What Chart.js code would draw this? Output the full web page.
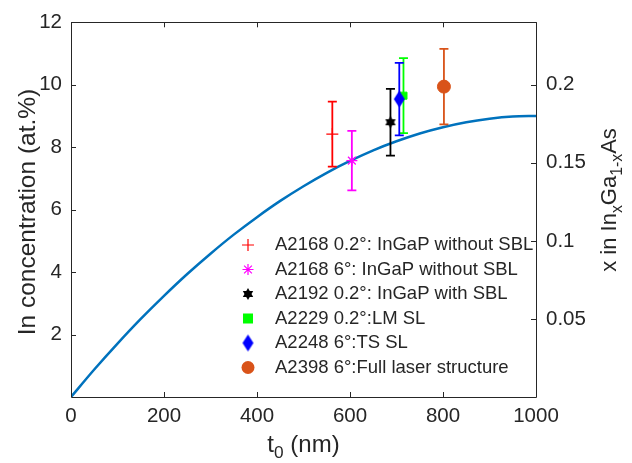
<!DOCTYPE html>
<html>
<head>
<meta charset="utf-8">
<script src="https://cdn.jsdelivr.net/npm/chart.js@4"></script>
<style>
  body { margin: 0; background: #fff; }
  canvas { display: block; }
</style>
</head>
<body>
<canvas id="chart" width="632" height="463"></canvas>
<script>
(function() {
  'use strict';

  // model curve
  var curveT = [0, 50, 100, 150, 200, 250, 300, 350, 400, 450, 500, 550, 600, 650, 700, 750, 800, 850, 900, 950, 1000];
  var curveIn = [0, 0.88, 1.71, 2.50, 3.24, 3.94, 4.59, 5.20, 5.76, 6.28, 6.75, 7.18, 7.56, 7.90, 8.19, 8.44, 8.64, 8.80, 8.91, 8.98, 9.00];

  // measured samples
  var sampleNames = [
    'A2168 0.2°: InGaP without SBL',
    'A2168 6°: InGaP without SBL',
    'A2192 0.2°: InGaP with SBL',
    'A2229 0.2°:LM SL',
    'A2248 6°:TS SL',
    'A2398 6°:Full laser structure'
  ];
  var sampleT = [562, 604, 687, 715, 706, 802];
  var sampleIn = [8.42, 7.57, 8.80, 9.65, 9.54, 9.94];
  var sampleErr = [1.04, 0.95, 1.07, 1.20, 1.16, 1.21];
  var sampleColors = ['#FF0000', '#FF00FF', '#000000', '#00FF00', '#0000FF', '#D95319'];

  var xTicks = [0, 200, 400, 600, 800, 1000];
  var yTicks = [2, 4, 6, 8, 10, 12];
  var y2Ticks = [0.05, 0.1, 0.15, 0.2];

  var FONT = '"Liberation Sans", Arial, sans-serif';
  var INK = '#262626';

  function hexagram(color, r) {
    var c = document.createElement('canvas');
    c.width = c.height = Math.ceil(r * 2 + 2);
    var g = c.getContext('2d');
    var cx = c.width / 2, cy = c.height / 2;
    g.fillStyle = color;
    [ -Math.PI / 2, Math.PI / 2 ].forEach(function(a0) {
      g.beginPath();
      for (var i = 0; i < 3; i++) {
        var a = a0 + i * 2 * Math.PI / 3;
        g.lineTo(cx + r * Math.cos(a), cy + r * Math.sin(a));
      }
      g.closePath();
      g.fill();
    });
    return c;
  }

  function diamond(color, w, h) {
    var c = document.createElement('canvas');
    c.width = w + 2;
    c.height = h + 2;
    var g = c.getContext('2d');
    g.fillStyle = color;
    g.beginPath();
    g.moveTo(c.width / 2, 1);
    g.lineTo(c.width - 1, c.height / 2);
    g.lineTo(c.width / 2, c.height - 1);
    g.lineTo(1, c.height / 2);
    g.closePath();
    g.fill();
    return c;
  }

  var styles = [
    { pointStyle: 'cross', radius: 6, borderWidth: 1.2 },
    { pointStyle: 'star', radius: 5.5, borderWidth: 1.2 },
    { pointStyle: hexagram('#000000', 6), radius: 6, borderWidth: 1 },
    { pointStyle: 'rect', radius: 5, borderWidth: 1 },
    { pointStyle: diamond('#0000FF', 11, 17), radius: 8, borderWidth: 1 },
    { pointStyle: 'circle', radius: 6.5, borderWidth: 1 }
  ];

  var datasets = [];
  for (var i = 0; i < sampleNames.length; i++) {
    datasets.push({
      label: sampleNames[i],
      data: [{ x: sampleT[i], y: sampleIn[i] }],
      errors: [sampleErr[i]],
      yAxisID: 'y',
      pointStyle: styles[i].pointStyle,
      pointRadius: styles[i].radius,
      pointBorderWidth: styles[i].borderWidth,
      pointBackgroundColor: sampleColors[i],
      pointBorderColor: sampleColors[i],
      borderColor: sampleColors[i],
      showLine: false,
      order: sampleNames.length - i
    });
  }
  datasets.push({
    label: 'model',
    data: curveT.map(function(t, k) { return { x: t, y: curveIn[k] }; }),
    yAxisID: 'y',
    showLine: true,
    borderColor: '#0072BD',
    borderWidth: 2.5,
    pointRadius: 0,
    tension: 0.3,
    order: 100
  });

  var errorBars = {
    id: 'errorBars',
    beforeDatasetDraw: function(chart, args) {
      var ds = chart.data.datasets[args.index];
      if (!ds.errors) return;
      var ctx = chart.ctx, xs = chart.scales.x, ys = chart.scales.y;
      ctx.save();
      ctx.strokeStyle = ds.borderColor;
      ctx.lineWidth = 1.8;
      ds.data.forEach(function(p, k) {
        var px = xs.getPixelForValue(p.x);
        var top = ys.getPixelForValue(p.y + ds.errors[k]);
        var bot = ys.getPixelForValue(p.y - ds.errors[k]);
        ctx.beginPath();
        ctx.moveTo(px, top); ctx.lineTo(px, bot);
        ctx.moveTo(px - 4.5, top); ctx.lineTo(px + 4.5, top);
        ctx.moveTo(px - 4.5, bot); ctx.lineTo(px + 4.5, bot);
        ctx.stroke();
      });
      ctx.restore();
    }
  };

  function richText(ctx, parts, size, x, y, angle) {
    var w = 0;
    parts.forEach(function(p) {
      ctx.font = (p.sub ? size * 0.72 : size) + 'px ' + FONT;
      p.w = ctx.measureText(p.t).width;
      w += p.w;
    });
    ctx.save();
    ctx.translate(x, y);
    ctx.rotate(angle);
    ctx.fillStyle = INK;
    ctx.textBaseline = 'middle';
    ctx.textAlign = 'left';
    var cx = -w / 2;
    parts.forEach(function(p) {
      ctx.font = (p.sub ? size * 0.72 : size) + 'px ' + FONT;
      ctx.fillText(p.t, cx, p.sub ? size * 0.36 : 0);
      cx += p.w;
    });
    ctx.restore();
  }

  function legendMarker(ctx, i, x, y) {
    var c = sampleColors[i];
    ctx.save();
    ctx.strokeStyle = c;
    ctx.fillStyle = c;
    ctx.lineWidth = 1.2;
    var st = styles[i].pointStyle;
    if (typeof st === 'object') {
      ctx.drawImage(st, x - st.width / 2, y - st.height / 2);
    } else if (st === 'cross' || st === 'star') {
      var r = styles[i].radius;
      ctx.beginPath();
      ctx.moveTo(x - r, y); ctx.lineTo(x + r, y);
      ctx.moveTo(x, y - r); ctx.lineTo(x, y + r);
      if (st === 'star') {
        var d = r * 0.707;
        ctx.moveTo(x - d, y - d); ctx.lineTo(x + d, y + d);
        ctx.moveTo(x - d, y + d); ctx.lineTo(x + d, y - d);
      }
      ctx.stroke();
    } else if (st === 'rect') {
      ctx.fillRect(x - 5, y - 5, 10, 10);
    } else {
      ctx.beginPath();
      ctx.arc(x, y, 6.5, 0, Math.PI * 2);
      ctx.fill();
    }
    ctx.restore();
  }

  var frame = {
    id: 'frame',
    afterDraw: function(chart) {
      var ctx = chart.ctx, a = chart.chartArea;
      var xs = chart.scales.x, ys = chart.scales.y, y2 = chart.scales.y2;
      ctx.save();
      ctx.strokeStyle = INK;
      ctx.lineWidth = 1;
      ctx.beginPath();
      ctx.rect(Math.round(a.left) + 0.5, Math.round(a.top) + 0.5, Math.round(a.right - a.left), Math.round(a.bottom - a.top));
      xTicks.forEach(function(v) {
        var px = Math.round(xs.getPixelForValue(v)) + 0.5;
        ctx.moveTo(px, a.bottom); ctx.lineTo(px, a.bottom - 5);
        ctx.moveTo(px, a.top); ctx.lineTo(px, a.top + 5);
      });
      yTicks.forEach(function(v) {
        var py = Math.round(ys.getPixelForValue(v)) + 0.5;
        ctx.moveTo(a.left, py); ctx.lineTo(a.left + 5, py);
      });
      y2Ticks.forEach(function(v) {
        var py = Math.round(y2.getPixelForValue(v)) + 0.5;
        ctx.moveTo(a.right, py); ctx.lineTo(a.right - 5, py);
      });
      ctx.stroke();
      ctx.restore();

      // axis titles
      richText(ctx, [{ t: 'In concentration (at.%)' }], 24.5, 28, 212, -Math.PI / 2);
      richText(ctx, [{ t: 't' }, { t: '0', sub: true }, { t: ' (nm)' }], 24, (a.left + a.right) / 2, 445, 0);
      richText(ctx, [{ t: 'x in In' }, { t: 'x', sub: true }, { t: 'Ga' }, { t: '1-x', sub: true }, { t: 'As' }], 22, 610, 200, -Math.PI / 2);

      // legend
      ctx.save();
      ctx.font = '18.5px ' + FONT;
      ctx.fillStyle = INK;
      ctx.textBaseline = 'middle';
      sampleNames.forEach(function(name, i) {
        var ly = 245 + i * 24.5;
        legendMarker(ctx, i, 248, ly);
        ctx.fillText(name, 275, ly);
      });
      ctx.restore();
    }
  };

  var tickFont = { family: FONT, size: 20.5 };

  new Chart(document.getElementById('chart'), {
    type: 'scatter',
    data: { datasets: datasets },
    options: {
      responsive: false,
      animation: false,
      devicePixelRatio: 1,
      layout: { padding: { top: 20, left: 0, right: 0, bottom: 0 } },
      plugins: { legend: { display: false }, tooltip: { enabled: false } },
      scales: {
        x: {
          type: 'linear', min: 0, max: 1000,
          grid: { display: false, drawTicks: false },
          border: { display: false },
          afterBuildTicks: function(s) { s.ticks = xTicks.map(function(v) { return { value: v }; }); },
          ticks: {
            font: tickFont, color: INK, padding: 7, maxRotation: 0,
            callback: function(v) { return String(v); }
          },
          afterFit: function(s) { s.height = 66; }
        },
        y: {
          type: 'linear', position: 'left', min: 0, max: 12,
          grid: { display: false, drawTicks: false },
          border: { display: false },
          afterBuildTicks: function(s) { s.ticks = yTicks.map(function(v) { return { value: v }; }); },
          ticks: { font: tickFont, color: INK, padding: 9 },
          afterFit: function(s) { s.width = 71; }
        },
        y2: {
          type: 'linear', position: 'right', min: 0, max: 0.24,
          grid: { display: false, drawTicks: false },
          border: { display: false },
          afterBuildTicks: function(s) { s.ticks = y2Ticks.map(function(v) { return { value: v }; }); },
          ticks: {
            font: tickFont, color: INK, padding: 10,
            callback: function(v) { return String(+v.toFixed(2)); }
          },
          afterFit: function(s) { s.width = 96; }
        }
      }
    },
    plugins: [errorBars, frame]
  });
}());
</script>
</body>
</html>
